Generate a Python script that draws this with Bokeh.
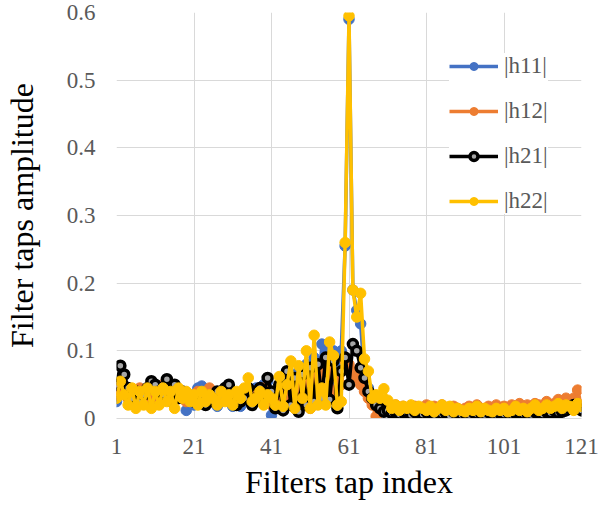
from bokeh.plotting import figure
from bokeh.models import FixedTicker, CustomJSTickFormatter, Range1d, Legend
from bokeh.embed import file_html
from bokeh.resources import INLINE

tap = list(range(1, 122))

h11 = [0.025, 0.045, 0.04, 0.03, 0.035, 0.02, 0.04, 0.03, 0.045, 0.025,
       0.04, 0.03, 0.045, 0.035, 0.025, 0.04, 0.03, 0.035, 0.012, 0.03,
       0.02, 0.045, 0.048, 0.03, 0.04, 0.025, 0.018, 0.035, 0.03, 0.04,
       0.018, 0.03, 0.018, 0.035, 0.04, 0.025, 0.045, 0.03, 0.05, 0.055,
       0.005, 0.04, 0.02, 0.05, 0.03, 0.06, 0.025, 0.07, 0.03, 0.08,
       0.035, 0.09, 0.03, 0.11, 0.1, 0.04, 0.1, 0.05, 0.1, 0.255,
       0.59, 0.19, 0.16, 0.14, 0.06, 0.045, 0.03, 0.02, 0.025, 0.015,
       0.02, 0.012, 0.018, 0.01, 0.015, 0.012, 0.008, 0.015, 0.01, 0.012,
       0.015, 0.01, 0.012, 0.008, 0.015, 0.01, 0.012, 0.008, 0.01, 0.012,
       0.008, 0.012, 0.01, 0.015, 0.01, 0.008, 0.012, 0.01, 0.015, 0.01,
       0.012, 0.008, 0.012, 0.01, 0.015, 0.01, 0.012, 0.015, 0.01, 0.012,
       0.015, 0.018, 0.012, 0.015, 0.02, 0.015, 0.02, 0.018, 0.015, 0.02, 0.015]

h12 = [0.035, 0.05, 0.045, 0.03, 0.04, 0.025, 0.045, 0.035, 0.04, 0.03,
       0.045, 0.035, 0.05, 0.04, 0.03, 0.045, 0.035, 0.04, 0.025, 0.035,
       0.03, 0.04, 0.035, 0.03, 0.045, 0.03, 0.025, 0.04, 0.035, 0.04,
       0.025, 0.035, 0.03, 0.04, 0.035, 0.03, 0.04, 0.035, 0.045, 0.04,
       0.02, 0.035, 0.025, 0.04, 0.02, 0.05, 0.015, 0.045, 0.02, 0.06,
       0.015, 0.07, 0.025, 0.075, 0.03, 0.07, 0.035, 0.06, 0.05, 0.085,
       0.08, 0.07, 0.06, 0.05, 0.04, 0.03, 0.02, 0.003, 0.02, 0.015,
       0.018, 0.012, 0.02, 0.015, 0.018, 0.012, 0.015, 0.018, 0.012, 0.015,
       0.02, 0.015, 0.018, 0.012, 0.02, 0.015, 0.012, 0.018, 0.015, 0.012,
       0.015, 0.018, 0.012, 0.02, 0.015, 0.012, 0.018, 0.015, 0.02, 0.015,
       0.018, 0.015, 0.02, 0.018, 0.022, 0.015, 0.02, 0.018, 0.022, 0.02,
       0.018, 0.025, 0.02, 0.022, 0.028, 0.025, 0.03, 0.025, 0.03, 0.042, 0.02]

h21 = [0.05, 0.078, 0.065, 0.045, 0.03, 0.04, 0.025, 0.035, 0.045, 0.055,
       0.05, 0.04, 0.035, 0.058, 0.045, 0.05, 0.03, 0.04, 0.035, 0.03,
       0.025, 0.03, 0.035, 0.02, 0.03, 0.025, 0.04, 0.03, 0.045, 0.05,
       0.035, 0.02, 0.025, 0.03, 0.045, 0.02, 0.03, 0.045, 0.035, 0.06,
       0.04, 0.015, 0.05, 0.012, 0.07, 0.02, 0.06, 0.01, 0.065, 0.02,
       0.075, 0.025, 0.08, 0.03, 0.09, 0.028, 0.085, 0.015, 0.07, 0.09,
       0.05, 0.11, 0.1, 0.075, 0.06, 0.04, 0.03, 0.02, 0.015, 0.01,
       0.012, 0.008, 0.01, 0.006, 0.01, 0.008, 0.005, 0.01, 0.008, 0.006,
       0.01, 0.008, 0.005, 0.01, 0.006, 0.008, 0.004, 0.01, 0.006, 0.005,
       0.008, 0.005, 0.01, 0.006, 0.008, 0.005, 0.01, 0.007, 0.005, 0.008,
       0.006, 0.01, 0.005, 0.008, 0.01, 0.006, 0.008, 0.005, 0.01, 0.008,
       0.006, 0.01, 0.008, 0.012, 0.008, 0.01, 0.012, 0.015, 0.02, 0.015, 0.012]

h22 = [0.03, 0.055, 0.035, 0.02, 0.045, 0.015, 0.04, 0.02, 0.045, 0.015,
       0.04, 0.02, 0.045, 0.025, 0.04, 0.015, 0.045, 0.03, 0.04, 0.025,
       0.035, 0.02, 0.04, 0.025, 0.035, 0.03, 0.02, 0.04, 0.025, 0.035,
       0.02, 0.04, 0.03, 0.045, 0.06, 0.025, 0.03, 0.04, 0.02, 0.035,
       0.03, 0.02, 0.062, 0.018, 0.05, 0.085, 0.015, 0.078, 0.03, 0.1,
       0.015, 0.123, 0.02, 0.045, 0.02, 0.113, 0.093, 0.02, 0.025, 0.26,
       0.595, 0.19, 0.15, 0.185, 0.088, 0.07, 0.03, 0.035, 0.03, 0.044,
       0.027, 0.015, 0.02, 0.012, 0.018, 0.015, 0.02, 0.012, 0.018, 0.015,
       0.012, 0.018, 0.01, 0.015, 0.02, 0.012, 0.018, 0.01, 0.015, 0.012,
       0.01, 0.015, 0.012, 0.018, 0.01, 0.015, 0.012, 0.01, 0.015, 0.012,
       0.015, 0.01, 0.012, 0.018, 0.012, 0.015, 0.01, 0.015, 0.02, 0.012,
       0.015, 0.02, 0.015, 0.018, 0.022, 0.015, 0.02, 0.018, 0.012, 0.022, 0.018]

x_ticks = [1, 21, 41, 61, 81, 101, 121]
y_ticks = [0, 0.1, 0.2, 0.3, 0.4, 0.5, 0.6]

series = [("|h11|", h11, "#4472C4"),
          ("|h12|", h12, "#ED7D31"),
          ("|h21|", h21, "#000000"),
          ("|h22|", h22, "#FFC000")]

FONT = "Liberation Serif"

p = figure(frame_width=465, frame_height=406, output_backend="svg",
           toolbar_location=None,
           x_range=Range1d(1, 121), y_range=Range1d(0, 0.6),
           min_border_left=114, min_border_right=18, min_border_top=12,
           min_border_bottom=70)
p.outline_line_color = None
p.background_fill_color = "white"
p.border_fill_color = "white"

items = []
for name, vals, col in series:
    r1 = p.line(tap, vals, line_color=col, line_width=3.5)
    if name == "|h21|":
        r2 = p.scatter(tap, vals, size=9, fill_color="#A6A6A6",
                       line_color="#000000", line_width=3.5)
    else:
        r2 = p.scatter(tap, vals, size=10.5, fill_color=col, line_color=col,
                       line_width=1)
    items.append((name, [r1, r2]))

legend = Legend(items=items, location=(333, 204))
legend.background_fill_color = "white"
legend.background_fill_alpha = 1
legend.border_line_color = None
legend.padding = 9
legend.margin = 0
legend.spacing = 19
legend.glyph_width = 49
legend.glyph_height = 20
legend.label_height = 20
legend.label_standoff = 6
legend.label_text_font = FONT
legend.label_text_font_size = "23px"
legend.label_text_color = "#595959"
p.add_layout(legend, "center")

p.xaxis.ticker = FixedTicker(ticks=x_ticks)
p.yaxis.ticker = FixedTicker(ticks=y_ticks)
p.yaxis.formatter = CustomJSTickFormatter(
    code="return tick == 0 ? '0' : tick.toFixed(1);")

p.xgrid.ticker = FixedTicker(ticks=x_ticks)
p.ygrid.ticker = FixedTicker(ticks=y_ticks)
p.grid.grid_line_color = "#D9D9D9"
p.grid.grid_line_width = 1

for ax in (p.xaxis, p.yaxis):
    ax.major_tick_line_color = None
    ax.minor_tick_line_color = None
    ax.major_label_text_font = FONT
    ax.major_label_text_font_size = "23px"
    ax.major_label_text_color = "#595959"
    ax.axis_label_text_font = FONT
    ax.axis_label_text_font_size = "32px"
    ax.axis_label_text_font_style = "normal"
    ax.axis_label_text_color = "#000000"

p.xaxis.axis_line_color = "#D9D9D9"
p.yaxis.axis_line_color = None
p.xaxis.major_label_standoff = 14
p.yaxis.major_label_standoff = 15
p.xaxis.axis_label = "Filters tap index"
p.yaxis.axis_label = "Filter taps amplitude"
p.xaxis.axis_label_standoff = 7
p.yaxis.axis_label_standoff = 24

open("out.html", "w").write(file_html(p, INLINE))
